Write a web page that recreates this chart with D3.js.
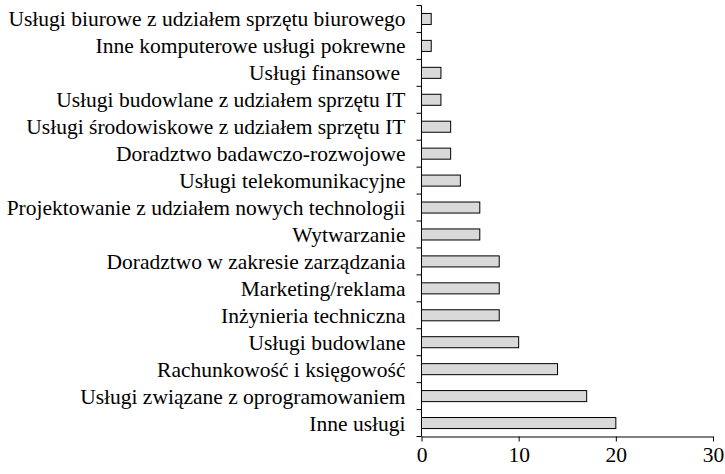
<!DOCTYPE html>
<html>
<head>
<meta charset="utf-8">
<script src="https://cdn.jsdelivr.net/npm/d3@7"></script>
<style>
  body { margin: 0; background: #fff; }
  text { font-family: "Liberation Serif", "Times New Roman", serif; }
</style>
</head>
<body>
<svg id="svg"></svg>
<script>
var categories = [
  "Usługi biurowe z udziałem sprzętu biurowego",
  "Inne komputerowe usługi pokrewne",
  "Usługi finansowe ",
  "Usługi budowlane z udziałem sprzętu IT",
  "Usługi środowiskowe z udziałem sprzętu IT",
  "Doradztwo badawczo-rozwojowe",
  "Usługi telekomunikacyjne",
  "Projektowanie z udziałem nowych technologii",
  "Wytwarzanie",
  "Doradztwo w zakresie zarządzania",
  "Marketing/reklama",
  "Inżynieria techniczna",
  "Usługi budowlane",
  "Rachunkowość i księgowość",
  "Usługi związane z oprogramowaniem",
  "Inne usługi"
];
var values = [1, 1, 2, 2, 3, 3, 4, 6, 6, 8, 8, 8, 10, 14, 17, 20];
var xTicks = [0, 10, 20, 30];

var width = 725, height = 474;
var margin = {top: 5.5, right: 12, bottom: 37.5, left: 421.5};
var fontSize = 21.5;

var svg = d3.select("#svg")
    .attr("width", width)
    .attr("height", height);

var x = d3.scaleLinear()
    .domain([0, 30])
    .range([margin.left, width - margin.right]);

var y = d3.scaleBand()
    .domain(categories)
    .range([margin.top, height - margin.bottom])
    .paddingInner(0.59)
    .paddingOuter(0.295);

var yb = d3.scaleLinear()
    .domain([0, categories.length])
    .range([margin.top, height - margin.bottom]);

// bars
svg.append("g")
    .attr("class", "bars")
  .selectAll("rect")
  .data(values)
  .enter().append("rect")
    .attr("x", x(0))
    .attr("y", function(d, i) { return y(categories[i]); })
    .attr("width", function(d) { return x(d) - x(0); })
    .attr("height", y.bandwidth())
    .attr("fill", "#d9d9d9")
    .attr("stroke", "#000")
    .attr("stroke-width", 1);

// y axis line + boundary ticks
var ya = svg.append("g").attr("class", "yaxis");
ya.append("line")
    .attr("x1", x(0)).attr("x2", x(0))
    .attr("y1", yb(0)).attr("y2", yb(categories.length))
    .attr("stroke", "#000");
ya.selectAll("line.tick")
  .data(d3.range(categories.length + 1))
  .enter().append("line")
    .attr("class", "tick")
    .attr("x1", x(0) - 5).attr("x2", x(0))
    .attr("y1", function(d) { return yb(d); })
    .attr("y2", function(d) { return yb(d); })
    .attr("stroke", "#000");
ya.selectAll("text")
  .data(categories)
  .enter().append("text")
    .attr("x", x(0) - 16)
    .attr("y", function(d) { return y(d) + y.bandwidth() / 2; })
    .attr("dy", "0.35em")
    .attr("text-anchor", "end")
    .attr("font-size", fontSize)
    .style("white-space", "pre")
    .text(function(d) { return d; });

// x axis
var xa = svg.append("g")
    .attr("class", "xaxis")
    .attr("transform", "translate(0," + yb(categories.length) + ")")
    .call(d3.axisBottom(x).tickValues(xTicks).tickSize(5).tickSizeOuter(0).tickPadding(5));
xa.select(".domain").attr("stroke", "#000");
xa.selectAll(".tick line").attr("stroke", "#000");
xa.selectAll(".tick text")
    .attr("font-size", fontSize)
    .attr("font-family", "Liberation Serif, Times New Roman, serif")
    .attr("fill", "#000");
</script>
</body>
</html>
